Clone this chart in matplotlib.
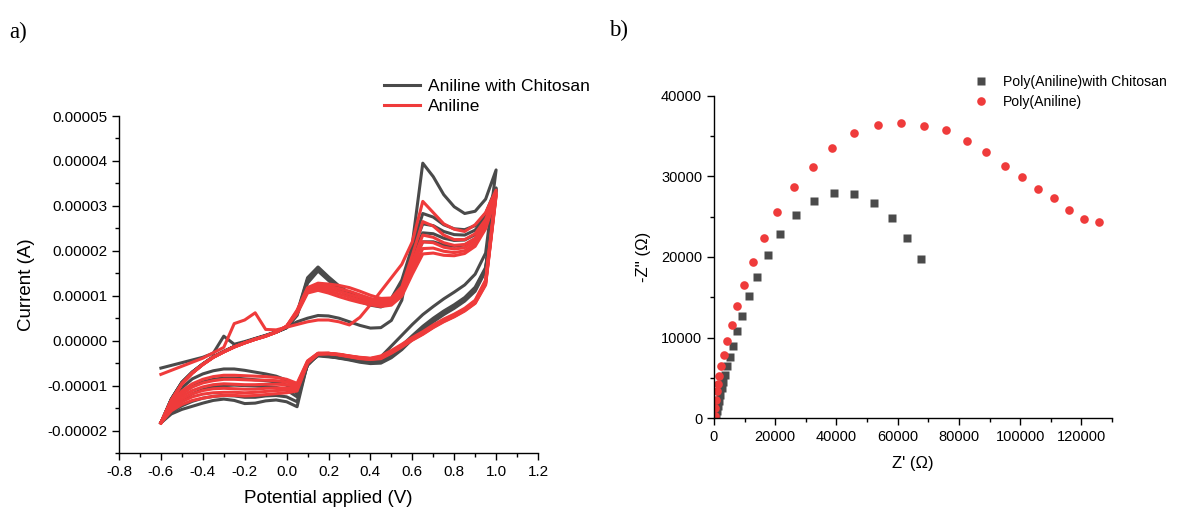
import matplotlib.pyplot as plt
from matplotlib.ticker import MultipleLocator, FormatStrFormatter

plt.rcParams['font.family'] = ['Liberation Sans', 'DejaVu Sans']
plt.rcParams['axes.unicode_minus'] = False

GRAY = '#4a4a4a'
RED = '#ef3b3b'

# ---- cyclic voltammetry (current in microamps) ----
potential = [-0.6, -0.55, -0.5, -0.45, -0.4, -0.35, -0.3, -0.25, -0.2, -0.15, -0.1,
             -0.05, 0.0, 0.05, 0.1, 0.15, 0.2, 0.25, 0.3, 0.35, 0.4, 0.45, 0.5,
             0.55, 0.6, 0.65, 0.7, 0.75, 0.8, 0.85, 0.9, 0.95, 1.0]

chi_start = [-18.3, -13.0, -9.3, -7.0, -5.2, -3.6, -2.4, -1.3, -0.4, 0.4, 1.1, 1.9, 2.9]
ani_start = [-18.3, -13.3, -9.6, -7.2, -5.3, -3.7, -2.5, -1.4, -0.5, 0.3, 1.0, 1.9, 3.2]

# forward sweeps, -0.6 V -> 1.0 V
chitosan_fwd = [
    [-6.1, -5.5, -4.9, -4.3, -3.7, -2.8, 1.0, -0.8, -0.2, 0.5, 1.2, 2.0, 3.0,
     4.2, 5.0, 5.6, 5.5, 5.0, 4.2, 3.4, 2.8, 2.9, 4.5, 9.0, 21.5, 39.5, 36.5,
     32.5, 29.8, 28.3, 28.8, 31.5, 38.0],
    chi_start + [6.2, 14.0, 16.4, 14.2, 12.2, 10.6, 9.5, 8.7, 8.3, 9.4, 13.5,
                 21.0, 28.3, 27.5, 25.8, 24.9, 24.7, 25.6, 28.3, 34.0],
    chi_start + [6.0, 13.6, 16.1, 14.0, 12.0, 10.4, 9.3, 8.5, 8.1, 9.1, 12.8,
                 19.8, 26.0, 25.6, 24.3, 23.6, 23.5, 24.6, 27.6, 33.8],
    chi_start + [5.8, 13.2, 15.8, 13.7, 11.7, 10.1, 9.0, 8.2, 7.8, 8.8, 12.2,
                 18.7, 24.0, 23.8, 22.8, 22.3, 22.4, 23.6, 26.9, 33.6],
    chi_start + [5.6, 12.8, 15.5, 13.4, 11.4, 9.8, 8.7, 7.9, 7.5, 8.5, 11.6,
                 17.6, 22.0, 22.0, 21.3, 21.0, 21.3, 22.6, 26.2, 33.4],
]

# reverse sweeps, listed from -0.6 V up to 1.0 V
chitosan_rev = [
    [-18.3, -16.3, -15.3, -14.6, -13.9, -13.3, -13.0, -13.3, -14.0, -13.9, -13.4,
     -13.2, -13.6, -14.7, -5.0, -3.4, -3.6, -3.8, -4.0, -4.3, -4.6, -3.6, -1.2,
     1.2, 3.6, 5.8, 7.6, 9.3, 10.8, 12.4, 14.8, 19.5, 38.0],
    [-18.3, -15.8, -14.5, -13.5, -12.8, -12.4, -12.2, -12.3, -12.6, -12.6, -12.3,
     -12.2, -12.5, -13.6, -5.2, -3.2, -3.5, -3.9, -4.3, -4.8, -5.1, -5.0, -3.8,
     -2.0, 0.3, 2.4, 4.2, 5.8, 7.2, 8.8, 11.0, 15.5, 34.0],
    [-18.3, -15.0, -13.2, -11.8, -10.9, -10.3, -10.0, -9.9, -10.0, -10.1, -10.2,
     -10.4, -11.0, -12.5, -5.3, -3.2, -3.4, -3.8, -4.2, -4.6, -4.9, -4.7, -3.5,
     -1.7, 0.5, 2.6, 4.4, 6.0, 7.4, 9.0, 11.3, 15.8, 33.8],
    [-18.3, -14.2, -11.8, -10.2, -9.2, -8.6, -8.3, -8.3, -8.5, -8.7, -8.9,
     -9.2, -9.9, -11.8, -5.4, -3.1, -3.4, -3.7, -4.1, -4.5, -4.8, -4.5, -3.2,
     -1.4, 0.8, 2.9, 4.7, 6.3, 7.7, 9.3, 11.6, 16.0, 33.6],
    [-18.3, -13.5, -10.5, -8.5, -7.4, -6.7, -6.3, -6.3, -6.6, -7.0, -7.4,
     -7.9, -8.8, -11.2, -5.5, -3.1, -3.3, -3.6, -4.0, -4.4, -4.6, -4.2, -2.9,
     -1.1, 1.1, 3.2, 5.0, 6.6, 8.0, 9.6, 11.9, 16.3, 33.4],
]

aniline_fwd = [
    [-7.5, -6.6, -5.7, -4.8, -3.9, -2.7, -1.5, 3.8, 4.6, 6.2, 2.5, 2.4, 3.0,
     3.6, 4.2, 4.6, 4.6, 4.2, 3.5, 5.2, 8.0, 11.0, 14.0, 17.0, 22.0, 31.0, 28.5,
     26.0, 24.8, 24.3, 25.8, 28.5, 33.5],
    ani_start + [6.8, 11.8, 12.8, 12.6, 12.3, 11.8, 11.0, 10.1, 9.4, 9.5, 12.0,
                 19.0, 26.5, 25.5, 23.5, 22.5, 22.5, 23.8, 27.0, 33.0],
    ani_start + [6.6, 11.5, 12.4, 12.1, 11.6, 11.0, 10.2, 9.4, 8.9, 9.0, 11.3,
                 17.5, 23.5, 23.0, 21.8, 21.2, 21.4, 22.8, 26.3, 32.8],
    ani_start + [6.4, 11.2, 12.0, 11.6, 11.0, 10.3, 9.6, 8.9, 8.4, 8.6, 10.8,
                 16.5, 22.0, 21.8, 20.8, 20.4, 20.7, 22.2, 25.8, 32.6],
    ani_start + [6.2, 10.9, 11.6, 11.1, 10.4, 9.7, 9.0, 8.4, 8.0, 8.2, 10.3,
                 15.6, 20.5, 20.6, 19.9, 19.6, 20.0, 21.6, 25.3, 32.4],
    ani_start + [6.0, 10.6, 11.2, 10.6, 9.8, 9.1, 8.5, 8.0, 7.6, 7.9, 9.9,
                 14.8, 19.3, 19.5, 19.0, 18.9, 19.4, 21.0, 24.9, 32.2],
]

aniline_rev = [
    [-18.3, -15.6, -14.2, -13.3, -12.8, -12.4, -12.2, -12.2, -12.3, -12.2, -12.0,
     -11.8, -11.6, -11.2, -5.0, -3.0, -2.9, -3.0, -3.4, -3.7, -3.9, -3.4, -2.2,
     -0.8, 0.7, 2.0, 3.5, 4.8, 5.9, 7.2, 9.0, 13.5, 33.5],
    [-18.3, -15.2, -13.6, -12.5, -11.9, -11.6, -11.5, -11.5, -11.6, -11.5, -11.3,
     -11.1, -11.0, -10.8, -4.9, -3.0, -2.9, -3.1, -3.4, -3.8, -4.0, -3.6, -2.4,
     -1.0, 0.5, 1.8, 3.3, 4.6, 5.7, 7.0, 8.8, 13.2, 33.0],
    [-18.3, -14.8, -13.0, -11.8, -11.1, -10.7, -10.6, -10.7, -10.8, -10.8, -10.6,
     -10.5, -10.5, -10.6, -4.8, -2.9, -2.9, -3.1, -3.5, -3.8, -4.0, -3.7, -2.5,
     -1.1, 0.4, 1.7, 3.2, 4.5, 5.6, 6.9, 8.6, 13.0, 32.8],
    [-18.3, -14.4, -12.4, -11.1, -10.3, -9.8, -9.6, -9.7, -9.8, -9.8, -9.7,
     -9.7, -9.8, -10.2, -4.7, -2.9, -2.8, -3.1, -3.5, -3.9, -4.1, -3.8, -2.6,
     -1.2, 0.3, 1.6, 3.1, 4.4, 5.5, 6.8, 8.5, 12.8, 32.6],
    [-18.3, -14.0, -11.8, -10.3, -9.4, -8.9, -8.6, -8.6, -8.7, -8.8, -8.8,
     -8.9, -9.2, -9.8, -4.6, -2.8, -2.8, -3.1, -3.5, -3.9, -4.1, -3.9, -2.7,
     -1.3, 0.2, 1.5, 3.0, 4.3, 5.4, 6.7, 8.4, 12.6, 32.4],
    [-18.3, -13.6, -11.2, -9.6, -8.6, -8.0, -7.7, -7.7, -7.8, -7.9, -8.0,
     -8.2, -8.6, -9.5, -4.5, -2.8, -2.8, -3.2, -3.6, -4.0, -4.2, -4.0, -2.8,
     -1.4, 0.1, 1.4, 2.9, 4.2, 5.3, 6.6, 8.3, 12.4, 32.2],
]

# ---- impedance (Nyquist), kilo-ohms ----
chi_zre = [0.7, 1.0, 1.3, 1.6, 2.1, 2.5, 3.0, 3.6, 4.2, 5.1, 6.2, 7.5, 9.2, 11.3,
           14.2, 17.6, 21.7, 26.9, 32.7, 39.2, 45.8, 52.3, 58.1, 63.2, 67.6]
chi_zim = [0.4, 0.9, 1.5, 2.1, 2.9, 3.7, 4.5, 5.3, 6.4, 7.6, 9.0, 10.8, 12.7, 15.1,
           17.5, 20.2, 22.8, 25.2, 26.9, 27.9, 27.8, 26.7, 24.8, 22.3, 19.8]

ani_zre = [0.2, 0.33, 0.55, 0.9, 1.3, 1.7, 2.3, 3.2, 4.2, 5.8, 7.5, 9.8, 12.6, 16.2,
           20.5, 26.1, 32.3, 38.5, 45.8, 53.5, 61.2, 68.6, 75.9, 82.6, 89.0, 94.9,
           100.5, 105.8, 111.1, 115.8, 120.9, 125.6]
ani_zim = [0.25, 1.2, 2.2, 3.3, 4.2, 5.2, 6.4, 7.8, 9.6, 11.6, 13.9, 16.5, 19.4, 22.4,
           25.6, 28.7, 31.2, 33.5, 35.4, 36.4, 36.6, 36.3, 35.8, 34.4, 33.0, 31.3,
           29.9, 28.4, 27.3, 25.8, 24.7, 24.4]

fig = plt.figure(figsize=(11.79, 5.09), dpi=100)

# CV panel
ax1 = fig.add_axes([119 / 1179, 1 - 453 / 509, 419 / 1179, 337 / 509])
v_loop = potential + potential[::-1]
for fwd, rev in zip(chitosan_fwd, chitosan_rev):
    cur = [c * 1e-6 for c in fwd + rev[::-1]]
    l1, = ax1.plot(v_loop, cur, color=GRAY, lw=2.2, solid_joinstyle='round')
for fwd, rev in zip(aniline_fwd, aniline_rev):
    cur = [c * 1e-6 for c in fwd + rev[::-1]]
    l2, = ax1.plot(v_loop, cur, color=RED, lw=2.2, solid_joinstyle='round')

ax1.set_xlim(-0.8, 1.2)
ax1.set_ylim(-0.000025, 0.00005)
ax1.xaxis.set_major_locator(MultipleLocator(0.2))
ax1.xaxis.set_minor_locator(MultipleLocator(0.1))
ax1.yaxis.set_major_locator(MultipleLocator(0.00001))
ax1.yaxis.set_minor_locator(MultipleLocator(0.000005))
ax1.xaxis.set_major_formatter(FormatStrFormatter('%.1f'))
ax1.yaxis.set_major_formatter(FormatStrFormatter('%.5f'))
ax1.set_xlabel('Potential applied (V)', fontsize=13.5, labelpad=8)
ax1.set_ylabel('Current (A)', fontsize=13.5, labelpad=9)
ax1.tick_params(which='major', direction='out', length=5, width=1, labelsize=11)
ax1.tick_params(which='minor', direction='out', length=3, width=1)
for s in ['top', 'right']:
    ax1.spines[s].set_visible(False)
for s in ['left', 'bottom']:
    ax1.spines[s].set_linewidth(1)

fig.legend([l1, l2], ['Aniline with Chitosan', 'Aniline'], loc='upper left',
           bbox_to_anchor=(375 / 1179, 1 - 70 / 509), frameon=False, fontsize=12.5,
           borderpad=0, handlelength=2.1, handletextpad=0.45, labelspacing=0.28)

# Nyquist panel
ax2 = fig.add_axes([714 / 1179, 1 - 418 / 509, 398 / 1179, 322 / 509])
ax2.plot([z * 1000 for z in chi_zre], [z * 1000 for z in chi_zim], 's', color=GRAY,
         ms=5.5, mec='none', label='Poly(Aniline)with Chitosan')
ax2.plot([z * 1000 for z in ani_zre], [z * 1000 for z in ani_zim], 'o', color=RED,
         ms=6.2, mec='none', label='Poly(Aniline)')
ax2.set_xlim(0, 130000)
ax2.set_ylim(0, 40000)
ax2.xaxis.set_major_locator(MultipleLocator(20000))
ax2.xaxis.set_minor_locator(MultipleLocator(10000))
ax2.yaxis.set_major_locator(MultipleLocator(10000))
ax2.yaxis.set_minor_locator(MultipleLocator(5000))
ax2.xaxis.set_major_formatter(FormatStrFormatter('%d'))
ax2.yaxis.set_major_formatter(FormatStrFormatter('%d'))
ax2.set_xlabel("Z' (\u03a9)", fontsize=12, labelpad=9)
ax2.set_ylabel("-Z'' (\u03a9)", fontsize=12, labelpad=7)
ax2.tick_params(which='major', direction='out', length=5, width=1, labelsize=10.5)
ax2.tick_params(which='minor', direction='out', length=3, width=1)
for s in ['top', 'right']:
    ax2.spines[s].set_visible(False)
for s in ['left', 'bottom']:
    ax2.spines[s].set_linewidth(1)

fig.legend(loc='upper left', handles=ax2.get_lines(), bbox_to_anchor=(960 / 1179, 1 - 68 / 509),
           frameon=False, fontsize=10.1, borderpad=0, handlelength=2,
           handletextpad=0.55, labelspacing=0.4, numpoints=1)

fig.text(9 / 1179, 1 - 32 / 509, 'a)', family=['Liberation Serif', 'DejaVu Serif'],
         fontsize=16.5, va='center')
fig.text(609 / 1179, 1 - 30 / 509, 'b)', family=['Liberation Serif', 'DejaVu Serif'],
         fontsize=16.5, va='center')

fig.savefig('out.png', dpi=100)
